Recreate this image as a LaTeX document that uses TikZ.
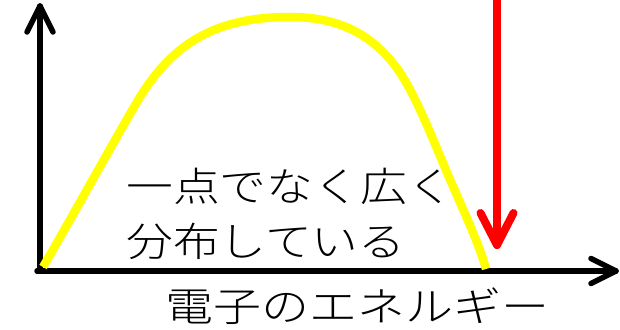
\documentclass[tikz,border=0pt]{standalone}
\usepackage{fontspec}
\usetikzlibrary{calc}
\newfontfamily\cjk{Noto Sans CJK JP Light}
\definecolor{curveyellow}{RGB}{255,255,0}
\definecolor{arrowred}{RGB}{255,0,0}
\tikzset{
  axisline/.style={line width=5.5pt, black, line cap=round, line join=round},
  spectrum/.style={line width=8.5pt, curveyellow, line cap=butt},
  redarrow/.style={line width=8pt, arrowred, line cap=round, line join=round},
  lab/.style={anchor=west, inner sep=0pt, font=\cjk\fontsize{40}{48}\selectfont},
}
\newcommand{\wide}[2]{\scalebox{#1}[1]{#2}}
\begin{document}
\begin{tikzpicture}[x=1pt,y=-1pt]
\useasboundingbox (0,0) rectangle (620,329);
% axes
\coordinate (origin) at (40,271);
\coordinate (ytip) at (40,6);
\coordinate (xstart) at (37,271);
\coordinate (xtip) at (616,271);
\draw[axisline] (origin) -- (ytip);
\draw[axisline] ($(ytip)+(-13,26)$) -- (ytip) -- ($(ytip)+(13,26)$);
\draw[axisline] (xstart) -- (xtip);
\draw[axisline] ($(xtip)+(-25,-12.5)$) -- (xtip) -- ($(xtip)+(-25,12.5)$);
% yellow distribution
\coordinate (c0) at (43,267);
\coordinate (c1) at (140,97);
\coordinate (c2) at (290,17);
\coordinate (c3) at (393,63);
\coordinate (c4) at (443,163);
\coordinate (c5) at (486,269);
\draw[spectrum] (c0) .. controls (75,212) and (120,130) .. (c1)
  .. controls (175,40) and (220,17) .. (c2)
  .. controls (340,17) and (370,35) .. (c3)
  .. controls (410,84) and (425,120) .. (c4)
  .. controls (460,204) and (478,240) .. (c5);
% red arrow
\coordinate (rtop) at (497,-6);
\coordinate (rtip) at (497,245);
\draw[redarrow] (rtop) -- (rtip);
\draw[redarrow] ($(rtip)+(-16.5,-32)$) -- (rtip) -- ($(rtip)+(16.5,-32)$);
% labels
\node[lab] (l1) at (126,186) {\wide{1.17}{一点でなく広く}};
\node[lab] (l2) at (126,241) {\wide{1.17}{分布している}};
\node[lab] (l3) at (165,306) {\wide{1.2}{電子のエネルギー}};
\end{tikzpicture}
\end{document}
